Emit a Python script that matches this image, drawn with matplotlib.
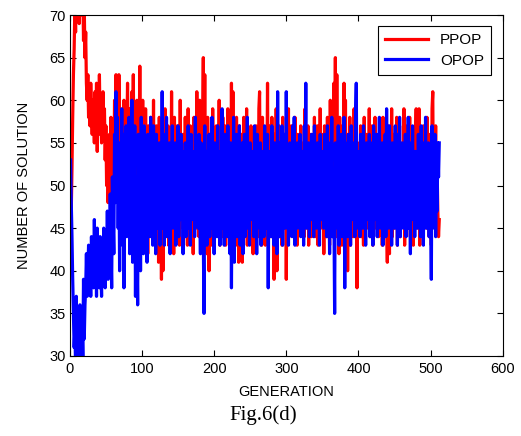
import matplotlib
matplotlib.use('Agg')
import matplotlib.pyplot as plt
import numpy as np

# PPOP (red) number of solutions per generation
ppop = [
    48, 47, 52, 58, 63, 66, 71, 68, 73, 70, 75, 72, 69, 74, 71, 76,
    70, 73, 67, 71, 65, 68, 62, 60, 63, 58, 61, 57, 62, 59, 56, 60,
    58, 55, 61, 57, 62, 54, 59, 56, 63, 57, 60, 55, 58, 61, 56, 59,
    53, 57, 50, 55, 48, 52, 56, 49, 58, 51, 47, 55, 50, 60, 57, 63,
    56, 61, 52, 63, 55, 59, 50, 57, 47, 54, 60, 51, 58, 49, 56, 62,
    53, 59, 48, 57, 52, 61, 55, 63, 50, 58, 46, 56, 60, 49, 57, 53,
    64, 52, 58, 45, 60, 47, 56, 43, 59, 48, 54, 42, 57, 50, 46, 58,
    44, 55, 49, 60, 45, 52, 43, 57, 47, 54, 41, 58, 46, 51, 39, 56,
    40, 55, 46, 59, 44, 53, 48, 57, 43, 56, 50, 45, 61, 47, 54, 42,
    58, 46, 52, 44, 57, 49, 55, 43, 60, 47, 53, 45, 56, 50, 44, 58,
    48, 54, 43, 59, 46, 51, 57, 44, 55, 49, 42, 58, 47, 53, 45, 61,
    49, 56, 44, 60, 47, 52, 43, 57, 65, 48, 63, 45, 55, 42, 58, 50,
    40, 56, 46, 53, 43, 59, 48, 55, 44, 51, 57, 45, 54, 47, 60, 43,
    55, 49, 44, 58, 46, 52, 57, 43, 54, 48, 59, 45, 51, 56, 44, 62,
    47, 61, 45, 55, 50, 43, 58, 46, 53, 41, 57, 48, 44, 56, 41, 52,
    58, 45, 54, 47, 59, 43, 52, 56, 44, 50, 57, 46, 53, 42, 55, 49,
    45, 57, 48, 53, 44, 59, 61, 47, 55, 43, 58, 50, 46, 54, 43, 56,
    49, 62, 45, 57, 47, 52, 44, 58, 46, 54, 39, 56, 42, 59, 40, 53,
    47, 57, 44, 55, 49, 43, 58, 46, 52, 45, 56, 39, 54, 47, 59, 44,
    53, 48, 57, 45, 55, 50, 44, 58, 47, 52, 43, 56, 49, 54, 45, 57,
    46, 53, 48, 55, 44, 59, 49, 51, 45, 57, 43, 54, 48, 56, 44, 52,
    55, 47, 58, 44, 53, 49, 57, 43, 52, 46, 59, 45, 54, 48, 56, 42,
    57, 46, 53, 44, 58, 48, 55, 43, 60, 47, 52, 45, 56, 62, 49, 65,
    44, 63, 47, 55, 42, 58, 46, 53, 43, 57, 49, 62, 45, 60, 44, 56,
    40, 54, 47, 58, 43, 52, 48, 56, 44, 59, 46, 51, 57, 38, 55, 45,
    53, 47, 57, 44, 55, 49, 43, 58, 46, 52, 56, 45, 54, 48, 59, 44,
    52, 46, 57, 43, 55, 49, 58, 45, 53, 47, 56, 44, 51, 57, 46, 54,
    43, 58, 47, 53, 45, 56, 49, 41, 57, 46, 42, 55, 48, 59, 44, 52,
    56, 45, 53, 48, 58, 43, 54, 47, 57, 44, 52, 49, 55, 46, 59, 43,
    54, 48, 57, 45, 52, 47, 58, 44, 55, 49, 53, 43, 56, 46, 54, 59,
    45, 58, 47, 59, 43, 53, 48, 56, 44, 57, 46, 52, 55, 45, 58, 47,
    53, 44, 56, 48, 43, 59, 61, 46, 55, 49, 57, 45, 52, 47, 44, 46,
]

# OPOP (blue)
opop = [
    53, 48, 44, 39, 35, 31, 33, 29, 37, 30, 28, 32, 29, 36, 31, 28,
    34, 30, 39, 32, 36, 38, 42, 37, 40, 43, 38, 41, 37, 44, 39, 42,
    38, 46, 40, 43, 37, 45, 39, 42, 38, 44, 40, 37, 43, 39, 45, 41,
    38, 44, 40, 47, 39, 45, 41, 49, 43, 38, 51, 46, 42, 56, 48, 61,
    52, 58, 45, 55, 40, 53, 47, 59, 43, 56, 38, 54, 49, 57, 44, 52,
    46, 58, 42, 55, 48, 60, 41, 53, 45, 57, 37, 51, 44, 36, 56, 43,
    55, 40, 58, 46, 52, 42, 57, 45, 54, 49, 41, 56, 47, 53, 44, 58,
    46, 52, 43, 57, 48, 54, 42, 56, 45, 51, 47, 55, 43, 50, 46, 61,
    45, 56, 43, 53, 48, 58, 44, 51, 46, 55, 42, 54, 49, 57, 45, 52,
    47, 55, 43, 53, 49, 57, 44, 52, 46, 56, 48, 54, 42, 51, 47, 55,
    44, 53, 48, 57, 45, 51, 43, 56, 49, 54, 46, 52, 44, 58, 47, 50,
    53, 45, 56, 48, 42, 55, 47, 52, 44, 35, 57, 46, 54, 43, 51, 49,
    56, 44, 52, 47, 58, 45, 53, 42, 55, 48, 51, 44, 57, 46, 53, 43,
    54, 47, 59, 45, 52, 43, 56, 48, 53, 44, 57, 46, 51, 42, 55, 38,
    52, 45, 58, 41, 54, 47, 56, 44, 51, 48, 57, 43, 53, 46, 55, 42,
    50, 56, 44, 53, 47, 58, 45, 51, 43, 55, 48, 54, 46, 52, 44, 57,
    47, 53, 42, 56, 48, 51, 45, 55, 43, 54, 49, 52, 44, 57, 46, 53,
    45, 56, 38, 54, 47, 52, 44, 57, 48, 53, 43, 55, 46, 51, 42, 61,
    48, 55, 44, 53, 47, 57, 43, 52, 49, 56, 45, 61, 46, 54, 43, 51,
    55, 47, 53, 44, 57, 46, 58, 43, 52, 48, 55, 45, 53, 47, 56, 44,
    51, 46, 54, 43, 57, 48, 62, 45, 53, 47, 55, 44, 52, 49, 56, 46,
    53, 44, 57, 47, 52, 45, 55, 48, 51, 43, 56, 46, 54, 47, 53, 45,
    56, 47, 52, 44, 57, 49, 53, 42, 55, 46, 58, 44, 51, 47, 35, 55,
    48, 52, 45, 57, 43, 54, 47, 56, 44, 53, 46, 58, 38, 55, 48, 52,
    44, 56, 47, 53, 43, 57, 46, 52, 48, 55, 44, 58, 62, 45, 54, 47,
    52, 44, 56, 47, 53, 45, 57, 48, 51, 43, 55, 46, 53, 49, 56, 44,
    53, 47, 55, 43, 57, 46, 52, 48, 56, 44, 53, 47, 58, 45, 51, 46,
    55, 43, 53, 47, 56, 44, 59, 48, 52, 45, 57, 46, 53, 43, 55, 47,
    51, 45, 57, 48, 53, 43, 56, 46, 58, 44, 52, 47, 55, 45, 53, 48,
    56, 44, 52, 47, 58, 45, 53, 42, 55, 48, 57, 46, 51, 44, 54, 49,
    53, 45, 56, 47, 52, 44, 57, 48, 54, 43, 55, 46, 58, 45, 52, 47,
    55, 44, 53, 48, 39, 57, 46, 52, 45, 56, 44, 53, 47, 55, 51, 55,
]

generation = np.arange(1, len(ppop) + 1)

plt.rcParams['font.family'] = ['Liberation Sans', 'DejaVu Sans']

fig = plt.figure(figsize=(5.21, 4.36), dpi=100)
ax = fig.add_axes([0.134, 0.1835, 0.831, 0.782])

ax.plot(generation, ppop, color='#ff0000', lw=2.3, label='PPOP')
ax.plot(generation, opop, color='#0000ff', lw=2.3, label='OPOP')

ax.set_xlim(0, 600)
ax.set_ylim(30, 70)
ax.set_xticks(range(0, 601, 100))
ax.set_yticks(range(30, 71, 5))
ax.tick_params(direction='in', top=True, right=True, labelsize=10.5, length=4)
ax.tick_params(axis='x', pad=4)
ax.tick_params(axis='y', pad=3)
for s in ax.spines.values():
    s.set_linewidth(0.8)

ax.set_xlabel('GENERATION', fontsize=10.5, labelpad=7)
ax.set_ylabel('NUMBER OF SOLUTION', fontsize=10.5, labelpad=13)

leg = ax.legend(loc='upper right', fontsize=11, fancybox=False, edgecolor='black',
                framealpha=1, handlelength=2.8, handletextpad=0.8,
                borderpad=0.45, labelspacing=0.45,
                bbox_to_anchor=(0.99, 0.99))
leg.get_frame().set_linewidth(0.8)

fig.text(0.505, 0.048, 'Fig.6(d)', family='Liberation Serif', fontsize=15,
         ha='center', va='center')

fig.savefig('out.png', dpi=100)
